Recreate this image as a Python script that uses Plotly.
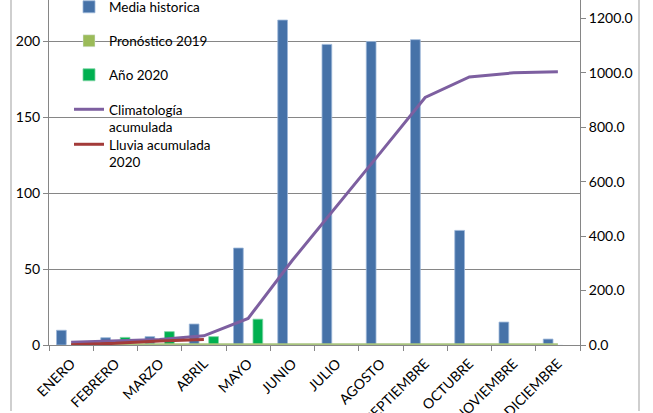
import plotly.graph_objects as go

meses = ["ENERO", "FEBRERO", "MARZO", "ABRIL", "MAYO", "JUNIO", "JULIO",
         "AGOSTO", "SEPTIEMBRE", "OCTUBRE", "NOVIEMBRE", "DICIEMBRE"]
media_historica = [9.7, 4.8, 5.5, 13.8, 63.8, 213.8, 197.8, 199.7, 200.9, 75.4, 15.1, 3.9]
pronostico_2019 = [0, 0, 0, 0, 0, 0, 0, 0, 0, 0, 0, 0]
anio_2020 = [None, 5.0, 8.8, 5.5, 17.0, None, None, None, None, None, None, None]
climatologia_acum = [9.7, 14.5, 20.0, 33.8, 97.6, 311.4, 509.2, 708.9, 909.8, 985.2, 1000.3, 1004.2]
lluvia_acum_2020 = [1.0, 6.0, 14.8, 20.3]
meses_2020 = meses[:4]

FONT = "Lato"
L, R, T, B = 49, 73, 0, 68
W, H = 653, 413
pw, ph = W - L - R, H - T - B

def px_x(p):
    return (p - L) / pw

def px_y(p):
    return (H - B - p) / ph

fig = go.Figure()
fig.add_trace(go.Bar(x=meses, y=media_historica, name="Media historica",
                     marker=dict(color="#4672A8", line=dict(color="#9DB7D9", width=0.8)),
                     legend="legend"))
fig.add_trace(go.Bar(x=meses, y=pronostico_2019, name="Pronóstico 2019",
                     marker=dict(color="#9BBB59"), legend="legend2"))
fig.add_trace(go.Bar(x=meses, y=anio_2020, name="Año 2020",
                     marker=dict(color="#00B050", line=dict(color="#7FD6A5", width=0.8)),
                     legend="legend3"))
fig.add_trace(go.Scatter(x=meses, y=pronostico_2019, mode="lines", showlegend=False,
                         line=dict(color="#A9C47F", width=3.5)))
fig.add_trace(go.Scatter(x=meses, y=climatologia_acum, mode="lines", yaxis="y2",
                         name="Climatología<br>acumulada",
                         line=dict(color="#7D5FA0", width=3), legend="legend4"))
fig.add_trace(go.Scatter(x=meses_2020, y=lluvia_acum_2020, mode="lines", yaxis="y2",
                         name="Lluvia acumulada<br>2020",
                         line=dict(color="#A33B39", width=3), legend="legend5"))

leg_common = dict(bgcolor="rgba(0,0,0,0)", font=dict(family=FONT, size=13.5, color="#000000"),
                  itemwidth=30, xanchor="left", x=px_x(69), itemclick=False)
ys = [7, 41, 75, 110, 145]
legends = {}
for i, yy in enumerate(ys):
    key = "legend" if i == 0 else f"legend{i+1}"
    d = dict(leg_common)
    if i >= 3:
        d.update(yanchor="top", y=px_y(yy - 16), valign="top")
    else:
        d.update(yanchor="middle", y=px_y(yy))
    legends[key] = d

shapes = []
for xp in (11, 639):
    shapes.append(dict(type="line", xref="paper", yref="paper",
                       x0=px_x(xp), x1=px_x(xp), y0=px_y(0), y1=px_y(411),
                       line=dict(color="#BFBFBF", width=1.5)))

fig.update_layout(
    width=W, height=H,
    margin=dict(l=L, r=R, t=T, b=B, autoexpand=False),
    paper_bgcolor="white", plot_bgcolor="white",
    barmode="group", bargap=0.34, bargroupgap=0,
    font=dict(family=FONT, size=14, color="#000000"),
    xaxis=dict(type="category", categoryorder="array", categoryarray=meses,
               range=[-0.5, 11.5], tickangle=-45, tickson="boundaries",
               ticks="outside", ticklen=5, tickcolor="#868686", automargin=False,
               ticklabelstandoff=4,
               showline=True, linecolor="#868686", linewidth=1, showgrid=False,
               tickfont=dict(family=FONT, size=14)),
    yaxis=dict(range=[0, 227], tickvals=[0, 50, 100, 150, 200],
               showgrid=True, gridcolor="#868686", gridwidth=1, automargin=False,
               ticks="outside", ticklen=5, tickcolor="#868686",
               showline=True, linecolor="#868686", linewidth=1, zeroline=False,
               tickfont=dict(family=FONT, size=14)),
    yaxis2=dict(range=[0, 1268], tickvals=[0, 200, 400, 600, 800, 1000, 1200],
                tickformat=".1f", overlaying="y", side="right", showgrid=False,
                ticks="outside", ticklen=5, tickcolor="#868686", automargin=False,
                showline=True, linecolor="#868686", linewidth=1, zeroline=False,
                tickfont=dict(family=FONT, size=14)),
    shapes=shapes,
    **legends,
)

fig.write_html("out.html", post_script="document.body.style.margin='0';",
               config={"displayModeBar": False})
